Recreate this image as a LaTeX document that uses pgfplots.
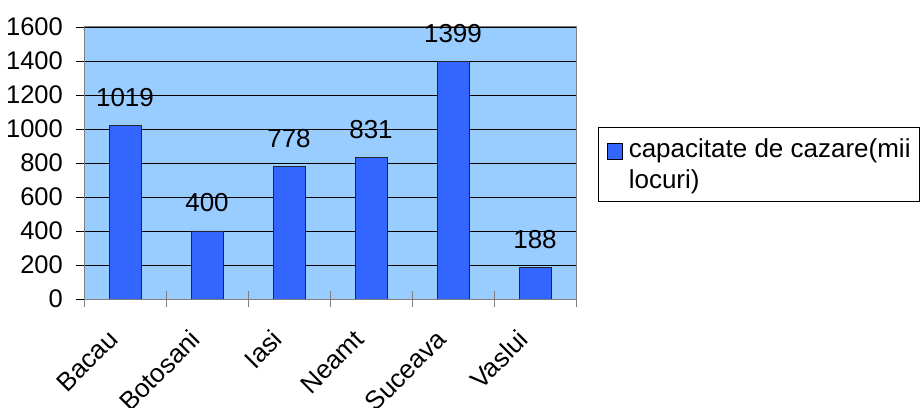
\documentclass[border=0pt]{standalone}
\usepackage{pgfplots}
\pgfplotsset{compat=1.18}
\usepackage{fontspec}
\setmainfont{Liberation Sans}
\definecolor{bgblue}{HTML}{99CCFF}
\definecolor{barblue}{HTML}{3366FF}
\begin{document}
\fontsize{26bp}{31bp}\selectfont
\begin{tikzpicture}
\path[use as bounding box] (0,0) rectangle (921bp,408bp);
\begin{axis}[
  at={(84bp,109bp)}, anchor=south west,
  scale only axis, width=492bp, height=272bp,
  xmin=-0.5, xmax=5.5, ymin=0, ymax=1600,
  axis background/.style={fill=bgblue},
  axis line style={draw=gray, line width=1pt},
  ytick={0,200,...,1600},
  ymajorgrids, grid style={black, line width=0.8pt},
  xtick={0,...,5},
  xticklabels={Bacau,Botosani,Iasi,Neamt,Suceava,Vaslui},
  minor xtick={-0.5,0.5,...,5.5},
  minor ytick={0,200,...,1600},
  tick pos=left,
  tick align=outside,
  major tick length=0pt,
  minor tick length=16bp,
  every minor x tick/.append style={draw=gray, line width=1pt, yshift=8bp},
  every minor y tick/.append style={draw=black, line width=0.8pt, xshift=8bp},
  /pgf/number format/assume math mode=true,
  /pgf/number format/1000 sep={},
  yticklabel style={font=\fontsize{25.5bp}{30bp}\selectfont, anchor=east, inner sep=0pt, xshift=-21bp},
  xticklabel style={font=\fontsize{26bp}{30bp}\selectfont, rotate=45, anchor=east, inner sep=0pt, xshift=-33.5bp, yshift=-17bp},
  ybar, bar width=32bp,
  nodes near coords,
  every node near coord/.append style={font=\fontsize{26bp}{30bp}\selectfont, anchor=base, inner sep=0pt, yshift=19bp},
  legend cell align=left,
  legend style={at={(1.0447,0.6324)}, anchor=north west, draw=black, fill=white,
    font=\fontsize{26bp}{31bp}\selectfont, inner xsep=9bp, inner ysep=4bp,
    nodes={inner sep=0pt, text height=26bp, text depth=9bp},
    row sep=-4bp,
    /tikz/every odd column/.append style={column sep=6bp}},
]
\addplot[fill=barblue, draw=black!85, line width=0.8pt,
  legend image code/.code={\draw[fill=barblue, draw=black, line width=0.6pt] (0bp,-11bp) rectangle (15bp,5bp);}]
  coordinates {(0,1019) (1,400) (2,778) (3,831) (4,1399) (5,188)};
\addlegendentry{capacitate de cazare(mii}
\addlegendimage{empty legend}
\addlegendentry{locuri)}
\end{axis}
\end{tikzpicture}
\end{document}
